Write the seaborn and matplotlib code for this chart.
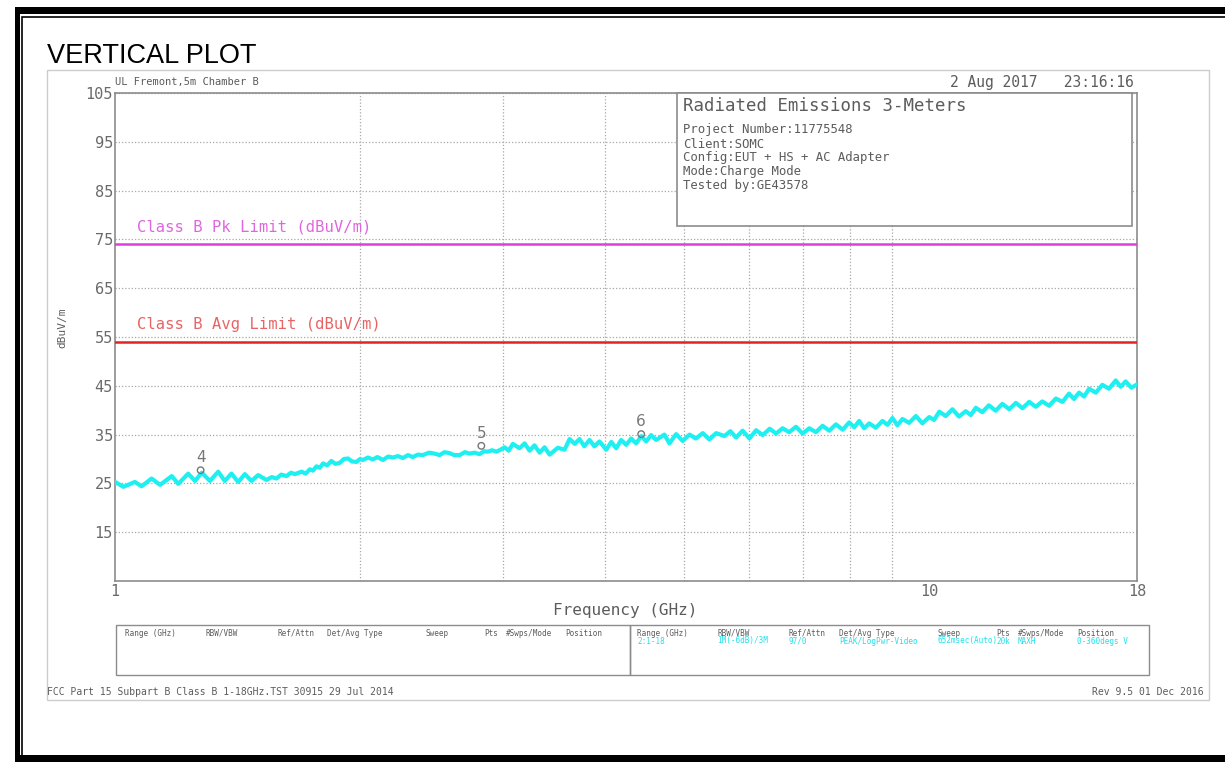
import numpy as np
import pandas as pd
import matplotlib
matplotlib.use('Agg')
import matplotlib.pyplot as plt
from matplotlib.patches import Rectangle
import seaborn as sns

# Trace: frequency (GHz) and level (dBuV/m)
freq_ghz = [1.000, 1.024, 1.058, 1.078, 1.109, 1.136, 1.174, 1.196, 1.230, 1.254,
            1.278, 1.308, 1.339, 1.364, 1.390, 1.417, 1.444, 1.471, 1.499, 1.535,
            1.558, 1.579, 1.600, 1.624, 1.645, 1.663, 1.695, 1.715, 1.735, 1.750,
            1.768, 1.785, 1.801, 1.822, 1.844, 1.865, 1.888, 1.910, 1.933, 1.955,
            1.979, 2.000, 2.016, 2.045, 2.074, 2.100, 2.134, 2.165, 2.195, 2.225,
            2.258, 2.290, 2.322, 2.355, 2.389, 2.430, 2.469, 2.504, 2.540, 2.576,
            2.610, 2.650, 2.690, 2.726, 2.765, 2.804, 2.840, 2.871, 2.905, 2.940,
            2.975, 3.010, 3.045, 3.081, 3.140, 3.185, 3.230, 3.275, 3.323, 3.370,
            3.418, 3.499, 3.566, 3.617, 3.670, 3.720, 3.770, 3.827, 3.880, 3.936,
            4.012, 4.070, 4.127, 4.185, 4.245, 4.305, 4.366, 4.430, 4.492, 4.555,
            4.620, 4.730, 4.797, 4.889, 4.980, 5.077, 5.170, 5.272, 5.370, 5.475,
            5.605, 5.700, 5.793, 5.900, 6.015, 6.130, 6.245, 6.370, 6.486, 6.607,
            6.730, 6.862, 6.990, 7.125, 7.260, 7.397, 7.540, 7.682, 7.830, 7.977,
            8.090, 8.205, 8.320, 8.440, 8.600, 8.764, 8.890, 9.014, 9.140, 9.273,
            9.450, 9.631, 9.810, 10.00, 10.14, 10.29, 10.48, 10.68, 10.88, 11.09,
            11.25, 11.41, 11.62, 11.84, 12.07, 12.30, 12.54, 12.78, 13.02, 13.27,
            13.52, 13.77, 14.04, 14.31, 14.58, 14.85, 15.06, 15.28, 15.50, 15.72,
            16.02, 16.32, 16.63, 16.95, 17.19, 17.43, 17.72, 18.00]
level_dbuv = [25.3, 24.3, 25.3, 24.4, 26.0, 24.7, 26.5, 24.9, 27.0, 25.5,
              27.2, 25.5, 27.4, 25.5, 27.0, 25.3, 26.9, 25.5, 26.7, 25.7,
              26.3, 26.0, 26.8, 26.5, 27.2, 26.9, 27.4, 27.0, 27.9, 27.6,
              28.5, 28.2, 29.1, 28.7, 29.6, 29.0, 29.2, 30.0, 30.1, 29.5,
              29.4, 30.0, 29.8, 30.3, 29.9, 30.4, 29.8, 30.5, 30.3, 30.6,
              30.2, 30.8, 30.4, 30.9, 30.8, 31.3, 31.1, 30.8, 31.4, 31.2,
              30.8, 30.8, 31.4, 31.1, 31.3, 31.0, 31.6, 31.5, 31.8, 31.5,
              31.9, 32.4, 31.7, 33.1, 32.2, 33.2, 31.7, 32.8, 31.3, 32.4,
              30.9, 32.3, 31.9, 34.1, 33.1, 34.1, 32.6, 33.9, 32.6, 33.6,
              31.9, 33.5, 32.2, 33.9, 32.9, 34.2, 33.2, 34.7, 33.6, 34.9,
              33.9, 35.0, 33.2, 35.1, 33.7, 35.0, 34.2, 35.3, 34.0, 35.3,
              34.7, 35.7, 34.4, 35.8, 34.2, 35.9, 34.9, 36.2, 35.2, 36.3,
              35.5, 36.6, 35.2, 36.3, 35.5, 36.8, 35.8, 37.1, 36.0, 37.5,
              36.5, 37.8, 36.3, 37.3, 36.4, 37.8, 37.0, 38.4, 36.9, 38.2,
              37.4, 38.8, 37.3, 38.6, 38.0, 39.7, 38.8, 40.2, 38.7, 39.8,
              39.0, 40.5, 39.6, 41.0, 39.9, 41.3, 40.2, 41.5, 40.4, 41.7,
              40.7, 41.8, 40.9, 42.4, 41.7, 43.4, 42.3, 43.6, 42.8, 44.4,
              43.6, 45.2, 44.4, 46.1, 44.8, 45.9, 44.6, 45.3]

pk_limit = 74.0
avg_limit = 54.0

mark_labels = ['4', '5', '6']
mark_freq = [1.274, 2.818, 4.429]
mark_level = [27.7, 32.7, 35.1]

y_ticks = [15, 25, 35, 45, 55, 65, 75, 85, 95, 105]
x_ticks = [1, 10, 18]
x_grid = [2, 3, 4, 5, 6, 7, 8, 9, 10]

info_title = 'Radiated Emissions 3-Meters'
info_lines = ['Project Number:11775548', 'Client:SOMC',
              'Config:EUT + HS + AC Adapter', 'Mode:Charge Mode',
              'Tested by:GE43578']
table_head = ['Range (GHz)', 'RBW/VBW', 'Ref/Attn', 'Det/Avg Type',
              'Sweep', 'Pts', '#Swps/Mode', 'Position']
table_vals = ['2:1-18', '1M(-6dB)/3M', '97/0', 'PEAK/LogPwr-Video',
              '652msec(Auto)', '20k', 'MAXH', '0-360degs V']

df = pd.DataFrame({'freq': freq_ghz, 'level': level_dbuv})
marks = pd.DataFrame({'freq': mark_freq, 'level': mark_level, 'lab': mark_labels})

sns.set_style('white')
plt.rcParams['font.family'] = ['DejaVu Sans Mono', 'DejaVu Sans']

W, H = 1225, 762
fig = plt.figure(figsize=(W / 100, H / 100), dpi=100)

def fx(x):
    return x / W

def fy(y):
    return 1 - y / H

def box(x0, y0, x1, y1, **kw):
    fig.add_artist(Rectangle((fx(x0), fy(y1)), (x1 - x0) / W, (y1 - y0) / H,
                             transform=fig.transFigure, **kw))

def txt(x, y, s, **kw):
    fig.text(fx(x), fy(y), s, **kw)

grey = '#5c5c5c'
frame = '#8c8c8c'

# page border
box(15, 7, W + 5, 14, facecolor='black', edgecolor='none')
box(15, 7, 20, H + 5, facecolor='black', edgecolor='none')
box(15, 755, W + 5, H + 5, facecolor='black', edgecolor='none')
box(22, 17, W + 5, H + 5, facecolor='none', edgecolor='black', lw=1.2)
box(47, 70, 1209, 700, facecolor='none', edgecolor='#cccccc', lw=1)

txt(47, 63, 'VERTICAL PLOT', family='Liberation Sans', fontsize=19.5,
    color='black', va='baseline')

# main axes
ax = fig.add_axes([fx(115), fy(581), (1137 - 115) / W, (581 - 93) / H])
sns.lineplot(data=df, x='freq', y='level', ax=ax, color='#1ef0f2', lw=3,
             estimator=None, sort=False, zorder=4)
ax.axhline(pk_limit, color='#dc3fdc', lw=1.8, zorder=3)
ax.axhline(avg_limit, color='#e52222', lw=1.8, zorder=3)
sns.scatterplot(data=marks, x='freq', y='level', ax=ax, marker='o', s=22,
                facecolor='none', edgecolor='#777777', linewidth=1, zorder=5)
for f, l, lab in zip(mark_freq, mark_level, mark_labels):
    ax.annotate(lab, (f, l), xytext=(0, 3.5), textcoords='offset points',
                ha='center', va='bottom', fontsize=11, color='#777777',
                family='DejaVu Sans', zorder=5)

ax.set_xscale('log')
ax.set_xlim(1, 18)
ax.set_ylim(5, 105)
ax.set_yticks(y_ticks)
ax.set_yticklabels([str(v) for v in y_ticks])
ax.set_xticks(x_ticks)
ax.set_xticklabels([str(v) for v in x_ticks])
ax.set_xticks(x_grid, minor=True)
ax.xaxis.set_minor_formatter(plt.NullFormatter())
ax.tick_params(axis='both', which='both', length=0, labelsize=11,
               labelcolor='#6a6a6a')
ax.tick_params(axis='y', pad=1.5)
ax.tick_params(axis='x', pad=2)
grid_kw = dict(color='#a8a8a8', lw=0.9, ls=(0, (1, 1.6)))
ax.grid(axis='y', which='major', **grid_kw)
ax.grid(axis='x', which='minor', **grid_kw)
ax.set_xlabel('')
ax.set_ylabel('')
for sp in ax.spines.values():
    sp.set_color(frame)
    sp.set_linewidth(1.2)

ax.text(1.065, pk_limit + 3.5, 'Class B Pk Limit (dBuV/m)', color='#e066e0',
        fontsize=11.2, va='center')
ax.text(1.065, avg_limit + 3.5, 'Class B Avg Limit (dBuV/m)', color='#e86464',
        fontsize=11.2, va='center')

# header texts around the axes
txt(115, 82, 'UL Fremont,5m Chamber B', fontsize=7.5, color=grey, va='center')
txt(1134, 83, '2 Aug 2017   23:16:16', fontsize=10.5, color=grey,
    va='center', ha='right')
txt(62, 328, 'dBuV/m', fontsize=8, color=grey, rotation=90, va='center',
    ha='center')
txt(625, 611, 'Frequency (GHz)', fontsize=11.5, color=grey, va='center',
    ha='center')

# info box
box(677, 93, 1132, 226, facecolor='white', edgecolor=frame, lw=1.2, zorder=5)
txt(683, 106, info_title, fontsize=12.5, color=grey, va='center', zorder=6)
for i, line in enumerate(info_lines):
    txt(683, 130 + 14 * i, line, fontsize=8.8, color=grey, va='center', zorder=6)

# settings tables
box(116, 625, 630, 675, facecolor='none', edgecolor=frame, lw=1)
box(630, 625, 1149, 675, facecolor='none', edgecolor=frame, lw=1)
left_cols = [125, 205, 277, 327, 425, 484, 506, 565]
for x, h in zip(left_cols, table_head):
    txt(x, 633, h, fontsize=5.5, color=grey, va='center')
for x, h, v in zip(left_cols, table_head, table_vals):
    txt(x + 512, 633, h, fontsize=5.5, color=grey, va='center')
    txt(x + 512, 641, v, fontsize=5.5, color='#22e0ea', va='center')

txt(47, 692, 'FCC Part 15 Subpart B Class B 1-18GHz.TST 30915 29 Jul 2014',
    fontsize=7, color=grey, va='center')
txt(1204, 692, 'Rev 9.5 01 Dec 2016', fontsize=7, color=grey, va='center',
    ha='right')

fig.savefig('out.png', dpi=100)
